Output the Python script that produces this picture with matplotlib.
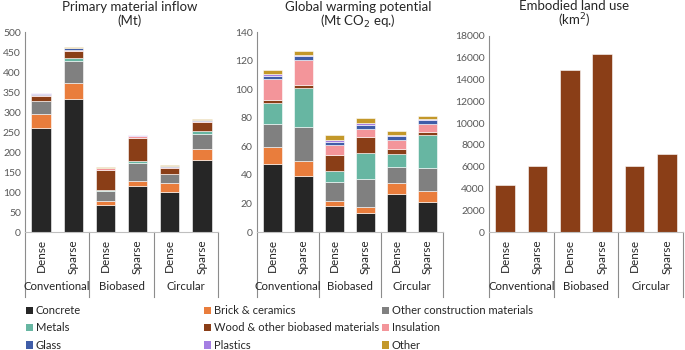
import matplotlib
matplotlib.use("Agg")
import matplotlib.pyplot as plt
from matplotlib.patches import Patch
from matplotlib.lines import Line2D
import numpy as np

plt.rcParams['font.family'] = ['Lato', 'DejaVu Sans']

groups = ["Conventional", "Biobased", "Circular"]
densities = ["Dense", "Sparse"]

materials = ["Concrete", "Brick & ceramics", "Other construction materials",
             "Metals", "Wood & other biobased materials", "Insulation",
             "Glass", "Plastics", "Other"]
colors = ["#262626", "#E97D3C", "#808080", "#67B6A2", "#8A3E17",
          "#F3959A", "#3F5DA8", "#A57FE3", "#C3982A"]

# Primary material inflow (Mt) per material, scenarios: CD, CS, BD, BS, CiD, CiS
pmi = {
    "Concrete":                       [260, 332, 68, 115, 100, 180],
    "Brick & ceramics":               [36, 41, 10, 13, 22, 28],
    "Other construction materials":   [31, 54, 25, 45, 22, 37],
    "Metals":                         [1, 7, 1, 5, 1, 8],
    "Wood & other biobased materials":[11, 18, 50, 56, 16, 21],
    "Insulation":                     [4, 4, 5, 5, 2, 4],
    "Glass":                          [3, 3, 1, 2, 2, 2],
    "Plastics":                       [1, 2, 1, 1, 1, 1],
    "Other":                          [1, 1, 1, 1, 1, 1],
}

# Global warming potential (Mt CO2 eq.)
gwp = {
    "Concrete":                       [47.8, 39.0, 18.0, 13.5, 26.4, 21.0],
    "Brick & ceramics":               [11.9, 10.9, 3.9, 4.0, 7.7, 7.7],
    "Other construction materials":   [15.9, 23.4, 13.3, 19.8, 11.2, 16.3],
    "Metals":                         [14.7, 27.7, 7.5, 18.2, 9.5, 22.7],
    "Wood & other biobased materials":[2.3, 1.7, 11.2, 10.8, 3.1, 2.1],
    "Insulation":                     [14.7, 17.9, 7.0, 6.0, 6.7, 5.6],
    "Glass":                          [2.1, 2.4, 2.1, 2.4, 2.4, 2.8],
    "Plastics":                       [1.4, 1.1, 1.4, 1.4, 0.9, 1.1],
    "Other":                          [2.4, 2.8, 3.7, 3.7, 2.8, 2.1],
}

# Embodied land use (km2)
land_use = [4300, 6100, 14900, 16350, 6050, 7200]

tick_color = "#595959"
spine_color = "#8c8c8c"

fig = plt.figure(figsize=(6.85, 3.5), dpi=100)

axes_rects = [
    [25/685, 1-232/350, 193/685, 200/350],
    [257/685, 1-232/350, 186/685, 200/350],
    [489/685, 1-232/350, 194/685, 196/350],
]
ylims = [(0, 500, 50), (0, 140, 20), (0, 18000, 2000)]
titles = [("Primary material inflow", "(Mt)", 130, 7, 21),
          ("Global warming potential", "(Mt CO$_2$ eq.)", 358, 7, 21),
          ("Embodied land use", "(km$^2$)", 574, 6, 21)]

n = len(groups) * len(densities)
x = np.arange(n)
labels = densities * len(groups)
bw = 0.6

for i, rect in enumerate(axes_rects):
    ax = fig.add_axes(rect)
    if i < 2:
        data = pmi if i == 0 else gwp
        bottom = np.zeros(n)
        for m, c in zip(materials, colors):
            vals = np.array(data[m], dtype=float)
            ax.bar(x, vals, bw, bottom=bottom, color=c, edgecolor="white", linewidth=0.4)
            bottom += vals
    else:
        ax.bar(x, land_use, bw, color="#8A3E17", edgecolor="white", linewidth=0.4)

    lo, hi, st = ylims[i]
    ax.set_ylim(lo, hi)
    ax.set_yticks(np.arange(lo, hi + st / 2, st))
    ax.set_xlim(-0.5, n - 0.5)
    ax.set_xticks(x)
    ax.set_xticklabels(labels, rotation=90, fontsize=8.5, color="#262626")
    ax.tick_params(axis="y", length=0, labelsize=7.5, labelcolor=tick_color, pad=3)
    ax.tick_params(axis="x", length=0, pad=5)
    for s in ["top", "right"]:
        ax.spines[s].set_visible(False)
    ax.spines["left"].set_color(spine_color)
    ax.spines["bottom"].set_color("#bfbfbf")
    ax.spines["left"].set_linewidth(0.8)
    ax.spines["bottom"].set_linewidth(0.8)

    # multi-level category axis
    trans = ax.get_xaxis_transform()
    ybot = -(297 - 232) / rect[3] / 350
    for b in [-0.5, 1.5, 3.5, 5.5]:
        ax.add_line(Line2D([b, b], [0, ybot], transform=trans, color=spine_color,
                           linewidth=0.8, clip_on=False))
    ygl = -(287 - 232) / rect[3] / 350
    for gi, g in enumerate(groups):
        ax.text(2 * gi + 0.5, ygl, g, transform=trans, ha="center", va="center",
                fontsize=8.2, color="#262626")

    t1, t2, cx, y1, y2 = titles[i]
    fig.text(cx / 685, 1 - y1 / 350, t1, ha="center", va="center", fontsize=9.5, color="#262626")
    fig.text(cx / 685, 1 - y2 / 350, t2, ha="center", va="center", fontsize=9.5, color="#262626")

# Legend in three columns, row-wise order
col_x = [26 / 685, 204 / 685, 382 / 685]
for ci in range(3):
    idxs = [ci, ci + 3, ci + 6]
    handles = [Patch(facecolor=colors[k], edgecolor="none") for k in idxs]
    labs = [materials[k] for k in idxs]
    fig.legend(handles, labs, loc="upper left", bbox_to_anchor=(col_x[ci], 1 - 305 / 350),
               frameon=False, fontsize=8, handlelength=0.6, handleheight=0.6,
               handletextpad=0.3, labelspacing=0.58, borderpad=0, borderaxespad=0,
               labelcolor="#262626")

fig.savefig("out.png", dpi=100)
